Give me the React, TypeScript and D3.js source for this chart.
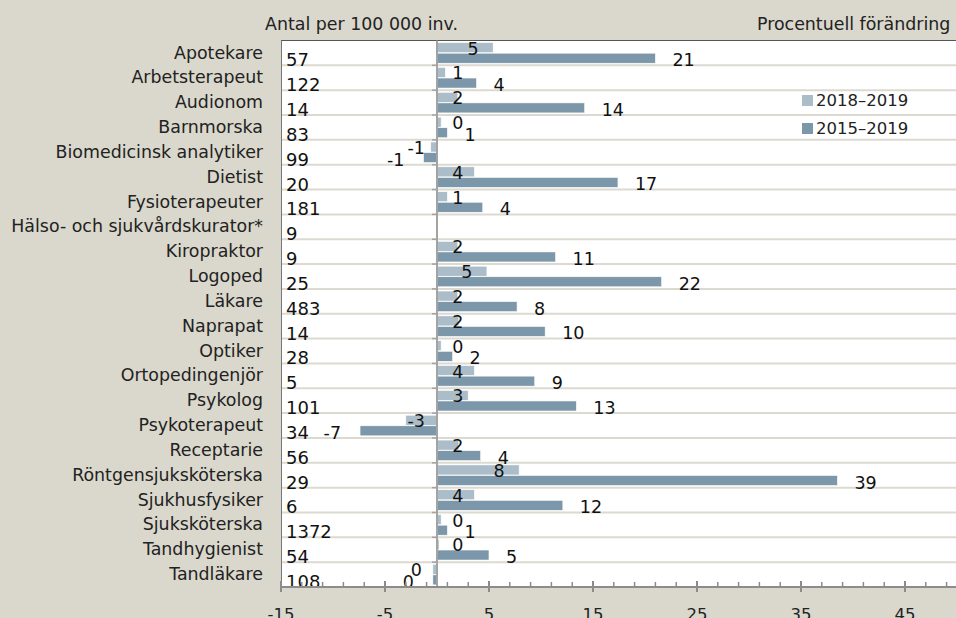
import React, { useRef, useEffect } from "react"
import * as d3 from "d3"

// yrken (kategorier)
const categories = [
  "Apotekare", "Arbetsterapeut", "Audionom", "Barnmorska", "Biomedicinsk analytiker",
  "Dietist", "Fysioterapeuter", "Hälso- och sjukvårdskurator*", "Kiropraktor", "Logoped",
  "Läkare", "Naprapat", "Optiker", "Ortopedingenjör", "Psykolog", "Psykoterapeut",
  "Receptarie", "Röntgensjuksköterska", "Sjukhusfysiker", "Sjuksköterska",
  "Tandhygienist", "Tandläkare"
]
// antal per 100 000 inv.
const perCapita = [57, 122, 14, 83, 99, 20, 181, 9, 9, 25, 483, 14, 28, 5, 101, 34, 56, 29, 6, 1372, 54, 108]
// procentuell förändring
const change1819 = [5.4, 0.8, 2.0, 0.4, -0.6, 3.6, 1.0, null, 2.0, 4.8, 2.0, 2.1, 0.4, 3.6, 3.0, -3.0, 2.1, 7.9, 3.6, 0.4, 0.2, -0.4]
const change1519 = [21.0, 3.8, 14.2, 1.0, -1.3, 17.4, 4.4, null, 11.4, 21.6, 7.7, 10.4, 1.5, 9.4, 13.4, -7.4, 4.2, 38.5, 12.1, 1.0, 5.0, -0.4]
const seriesNames = ["2018–2019", "2015–2019"]
const xTicks = [-15, -5, 5, 15, 25, 35, 45]

export default function App() {
  const svgRef = useRef(null)

  useEffect(() => {
    const W = 956, H = 618
    const left = 281, right = 957, top = 40.5, bottom = 587
    const font = "'Century Gothic', 'DejaVu Sans', sans-serif"
    const colLight = "#aabdc8", colDark = "#7b97a9"

    const svg = d3.select(svgRef.current)
    svg.selectAll("*").remove()

    svg.append("rect").attr("width", W).attr("height", H).attr("fill", "#dad8cc")

    const x = d3.scaleLinear().domain([-15, 50]).range([left, right])
    const y = d3.scaleBand().domain(categories).range([top, bottom])
    const inner = d3.scaleBand().domain(["a", "b"]).range([0, y.bandwidth()])
      .paddingInner(0.05).paddingOuter(0.2)

    // plot area
    svg.append("rect").attr("x", left).attr("y", top).attr("width", right - left)
      .attr("height", bottom - top).attr("fill", "#fff")

    // gridlines between rows
    svg.append("g").selectAll("line")
      .data(categories.slice(1))
      .enter().append("line")
      .attr("x1", left).attr("x2", right)
      .attr("y1", d => y(d)).attr("y2", d => y(d))
      .attr("stroke", "#dcdad0").attr("stroke-width", 2)

    // borders
    svg.append("line").attr("x1", left).attr("x2", right).attr("y1", top).attr("y2", top)
      .attr("stroke", "#555").attr("stroke-width", 1)
    svg.append("line").attr("x1", left + 0.5).attr("x2", left + 0.5).attr("y1", top).attr("y2", bottom)
      .attr("stroke", "#777").attr("stroke-width", 1)

    // headers
    svg.append("text").attr("x", 458).attr("y", 30).attr("text-anchor", "end")
      .attr("font-family", font).attr("font-size", "17.4px").attr("fill", "#222")
      .text("Antal per 100 000 inv.")
    svg.append("text").attr("x", 757).attr("y", 30).attr("text-anchor", "start")
      .attr("font-family", font).attr("font-size", "17.4px").attr("fill", "#222")
      .text("Procentuell förändring")

    // category labels
    svg.append("g").selectAll("text")
      .data(categories)
      .enter().append("text")
      .attr("x", 263).attr("y", d => y(d) + 18)
      .attr("text-anchor", "end")
      .attr("font-family", font).attr("font-size", "17.4px").attr("fill", "#222")
      .text(d => d)

    // per capita numbers
    svg.append("g").selectAll("text")
      .data(perCapita)
      .enter().append("text")
      .attr("x", 286).attr("y", (d, i) => y(categories[i]) + y.bandwidth() + 1)
      .attr("font-family", font).attr("font-size", "18px").attr("fill", "#111")
      .text(d => d)

    const series = [
      { key: "a", values: change1819, color: colLight },
      { key: "b", values: change1519, color: colDark }
    ]

    series.forEach(s => {
      const g = svg.append("g")
      s.values.forEach((v, i) => {
        if (v == null) return
        const yy = y(categories[i]) + inner(s.key)
        g.append("rect")
          .attr("x", Math.min(x(0), x(v)))
          .attr("y", yy)
          .attr("width", Math.abs(x(v) - x(0)))
          .attr("height", inner.bandwidth())
          .attr("fill", s.color)
          .attr("stroke", "#fff").attr("stroke-width", 0.6)
      })
    })

    // zero line with small ticks
    svg.append("line").attr("x1", x(0)).attr("x2", x(0)).attr("y1", top).attr("y2", bottom)
      .attr("stroke", "#a3a3a3").attr("stroke-width", 2)
    svg.append("g").selectAll("line")
      .data(categories)
      .enter().append("line")
      .attr("x1", x(0) - 5).attr("x2", x(0))
      .attr("y1", d => y(d) + y.bandwidth()).attr("y2", d => y(d) + y.bandwidth())
      .attr("stroke", "#a3a3a3").attr("stroke-width", 1.5)

    // value labels
    const lbl = svg.append("g").attr("font-family", font).attr("font-size", "17.5px").attr("fill", "#111")
    change1819.forEach((v, i) => {
      if (v == null) return
      const cx = v >= 0 ? Math.max(x(2), x(v) - 20) : Math.min(x(-2), x(v) + 20)
      lbl.append("text")
        .attr("x", cx).attr("y", y(categories[i]) + inner("a") + inner.bandwidth() / 2 + 7)
        .attr("text-anchor", "middle")
        .text(String(Math.round(v)))
    })
    change1519.forEach((v, i) => {
      if (v == null) return
      const pos = v >= 0
      lbl.append("text")
        .attr("x", pos ? x(v) + 17 : x(v) - 19)
        .attr("y", y(categories[i]) + inner("b") + inner.bandwidth() / 2 + 8)
        .attr("text-anchor", pos ? "start" : "end")
        .text(String(Math.round(v)))
    })

    // x axis
    const ax = svg.append("g")
    ax.append("line").attr("x1", left).attr("x2", right).attr("y1", bottom).attr("y2", bottom)
      .attr("stroke", "#8c8c8c").attr("stroke-width", 2)
    ax.selectAll(".minor")
      .data(d3.range(-15, 50, 2))
      .enter().append("line")
      .attr("x1", d => x(d)).attr("x2", d => x(d))
      .attr("y1", bottom - 5).attr("y2", bottom)
      .attr("stroke", "#8c8c8c").attr("stroke-width", 1.5)
    ax.selectAll(".major")
      .data(xTicks)
      .enter().append("line")
      .attr("x1", d => x(d)).attr("x2", d => x(d))
      .attr("y1", bottom - 6).attr("y2", bottom + 5)
      .attr("stroke", "#8c8c8c").attr("stroke-width", 2)
    ax.selectAll("text")
      .data(xTicks)
      .enter().append("text")
      .attr("x", d => x(d)).attr("y", 620)
      .attr("text-anchor", "middle")
      .attr("font-family", font).attr("font-size", "16.5px").attr("fill", "#222")
      .text(d => d)

    // legend
    const leg = svg.append("g")
    seriesNames.forEach((name, i) => {
      leg.append("rect").attr("x", 802).attr("y", 95 + i * 28).attr("width", 11).attr("height", 11)
        .attr("fill", i === 0 ? colLight : colDark)
      leg.append("text").attr("x", 816).attr("y", 106 + i * 28)
        .attr("font-family", font).attr("font-size", "16.5px").attr("fill", "#222")
        .text(name)
    })
  }, [])

  return (
    <div style={{ position: "fixed", left: 0, top: 0 }}>
      <svg ref={svgRef} width={956} height={618} style={{ display: "block" }}></svg>
    </div>
  )
}
